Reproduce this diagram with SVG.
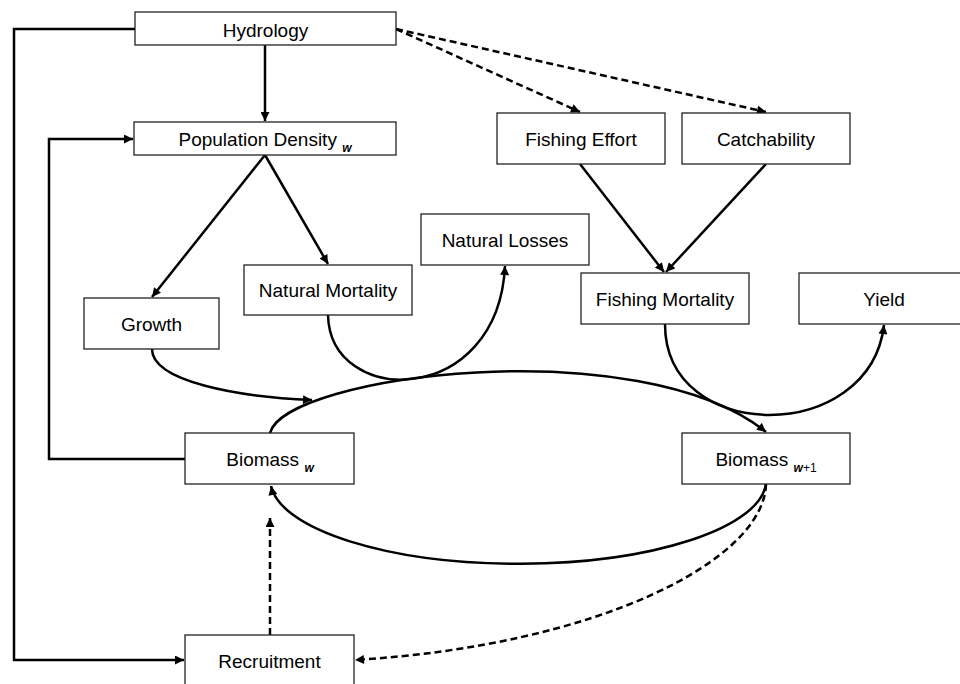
<svg xmlns="http://www.w3.org/2000/svg" width="960" height="684" viewBox="0 0 960 684">
<style>
.box{fill:#fff;stroke:#222;stroke-width:1.3}
.lbl{font-family:"Liberation Sans",Arial,sans-serif;font-size:19px;fill:#000;text-anchor:middle}
.sub{font-size:12px}
.w{font-style:italic;font-weight:bold}
.c{fill:none;stroke:#000;stroke-width:2.5}
.d{stroke-dasharray:7,4}
</style>
<defs>
<marker id="ah" viewBox="0 0 10 10" refX="10" refY="5" markerWidth="10" markerHeight="9" markerUnits="userSpaceOnUse" orient="auto">
<path d="M0,0 L10,5 L0,10 z" fill="#000"/>
</marker>
</defs>
<rect width="960" height="684" fill="#fff"/>
<g id="connectors">
<polyline class="c" points="135,29 14,29 14,660 184,660" marker-end="url(#ah)"/>
<line class="c" x1="265" y1="45" x2="265" y2="121" marker-end="url(#ah)"/>
<polyline class="c" points="185,459 49,459 49,139 133,139" marker-end="url(#ah)"/>
<line class="c" x1="265" y1="155" x2="152" y2="297" marker-end="url(#ah)"/>
<line class="c" x1="265" y1="155" x2="328" y2="264" marker-end="url(#ah)"/>
<line class="c d" x1="396" y1="29" x2="580" y2="112" marker-end="url(#ah)"/>
<line class="c d" x1="396" y1="29" x2="766" y2="112" marker-end="url(#ah)"/>
<line class="c" x1="580" y1="164" x2="664" y2="272" marker-end="url(#ah)"/>
<line class="c" x1="766" y1="164" x2="666" y2="272" marker-end="url(#ah)"/>
<path class="c" d="M328,315 C330,408 498,408 505,266" marker-end="url(#ah)"/>
<path class="c" d="M152,349 C152,382 240,397 312,400" marker-end="url(#ah)"/>
<path class="c" d="M270,433 C285,375 640,330 766,432" marker-end="url(#ah)"/>
<path class="c" d="M665,324 C665,445 870,445 884,325" marker-end="url(#ah)"/>
<path class="c" d="M766,484 A248,84 0 0 1 271,486" marker-end="url(#ah)"/>
<path class="c d" d="M766,484 C764,560 600,645 355,660" marker-end="url(#ah)"/>
<line class="c d" x1="270" y1="635" x2="270" y2="518" marker-end="url(#ah)"/>
</g>
<g id="hydrology"><rect class="box" x="135" y="12" width="261" height="33"/><text class="lbl" x="265.5" y="37">Hydrology</text></g>
<g id="population-density"><rect class="box" x="134" y="122" width="262" height="33"/><text class="lbl" x="265" y="146">Population Density <tspan class="sub w" dy="6">w</tspan></text></g>
<g id="fishing-effort"><rect class="box" x="497" y="113" width="168" height="51"/><text class="lbl" x="581" y="146">Fishing Effort</text></g>
<g id="catchability"><rect class="box" x="682" y="113" width="168" height="51"/><text class="lbl" x="766" y="146">Catchability</text></g>
<g id="natural-losses"><rect class="box" x="421" y="214" width="168" height="51"/><text class="lbl" x="505" y="247">Natural Losses</text></g>
<g id="natural-mortality"><rect class="box" x="244" y="265" width="168" height="50"/><text class="lbl" x="328" y="297">Natural Mortality</text></g>
<g id="fishing-mortality"><rect class="box" x="581" y="273" width="168" height="51"/><text class="lbl" x="665" y="306">Fishing Mortality</text></g>
<g id="yield"><rect class="box" x="799" y="273" width="168" height="51"/><text class="lbl" x="884" y="306">Yield</text></g>
<g id="growth"><rect class="box" x="84" y="298" width="135" height="51"/><text class="lbl" x="151.5" y="331">Growth</text></g>
<g id="biomass-w"><rect class="box" x="185" y="433" width="169" height="51"/><text class="lbl" x="270" y="466">Biomass <tspan class="sub w" dy="6">w</tspan></text></g>
<g id="biomass-w1"><rect class="box" x="682" y="433" width="168" height="51"/><text class="lbl" x="766" y="466">Biomass <tspan class="sub w" dy="6">w</tspan><tspan class="sub">+1</tspan></text></g>
<g id="recruitment"><rect class="box" x="185" y="635" width="169" height="51"/><text class="lbl" x="269.5" y="668">Recruitment</text></g>
</svg>
